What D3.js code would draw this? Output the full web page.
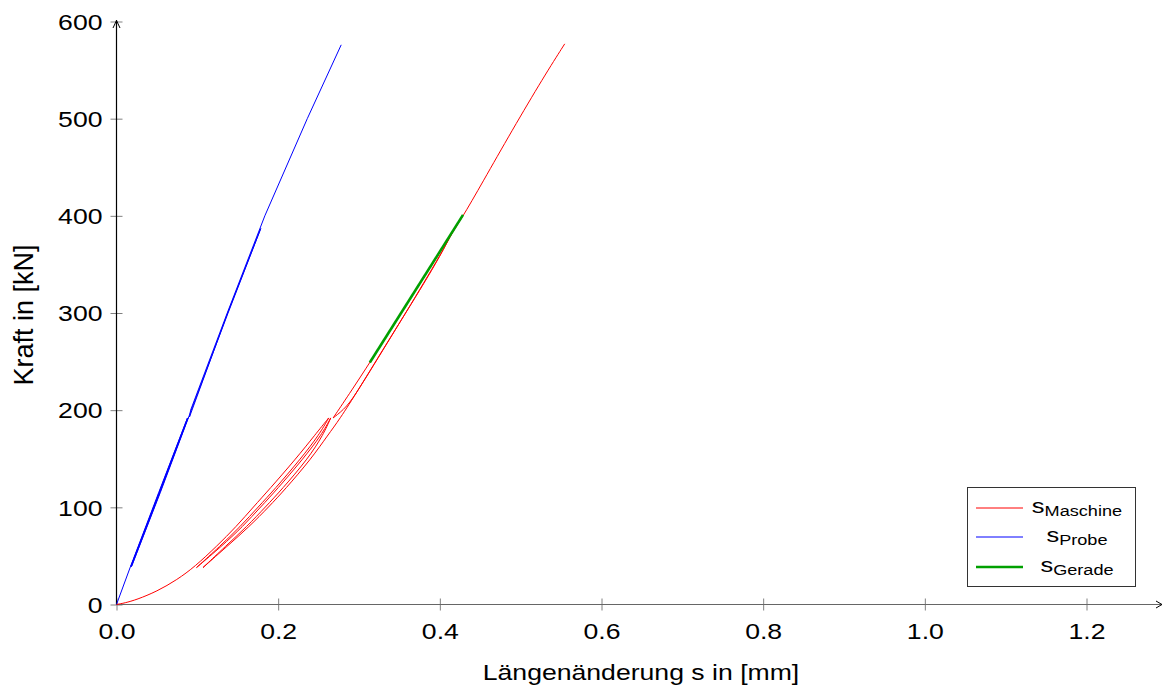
<!DOCTYPE html>
<html>
<head>
<meta charset="utf-8">
<script src="https://cdn.jsdelivr.net/npm/d3@7"></script>
<style>
  html, body { margin: 0; padding: 0; background: #fff; }
  svg { display: block; font-family: "Liberation Sans", Arial, sans-serif; }
</style>
</head>
<body>
<svg id="chart" width="1164" height="686"></svg>
<script>
// ---- Data: force (kN) vs. elongation (mm), split into load / unload cycles ----
// Machine displacement (s_Maschine), points as [mm, kN]
const machineLoad1   = [[0,0],[0.01,1.5],[0.025,5],[0.05,13.5],[0.075,25.5],[0.097,39],[0.124,60],[0.148,80],[0.170,101],[0.1885,118],[0.222,150],[0.246,175],[0.2625,192]];
const machineUnload1 = [[0.2625,192],[0.251,175],[0.228,150],[0.195,118],[0.176,101],[0.153,80],[0.128,60],[0.099,38]];
const machineReload1 = [[0.099,38],[0.130,60],[0.156,80],[0.179,101],[0.198,118],[0.231,150],[0.254,175],[0.265,192]];
const machineUnload2 = [[0.265,192],[0.256,175],[0.237,150],[0.204,118],[0.185,101],[0.161,80],[0.135,60],[0.107,38]];
const machineReload2 = [[0.107,38],[0.137,60],[0.164,80],[0.189,101],[0.208,118],[0.241,150],[0.262,175],[0.2755,190],[0.2993,221],[0.33,263],[0.36,303],[0.38,330],[0.40,358],[0.418,387]];
const machineUnload3 = [[0.418,387],[0.405,366],[0.385,338],[0.365,310],[0.34,276],[0.318,246],[0.30,222],[0.285,203],[0.268,192]];
const machineReload3 = [[0.268,192],[0.2914,221],[0.3134,249],[0.34,284],[0.37,323],[0.395,356],[0.4275,397.6],[0.4522,433.6],[0.4894,488],[0.5285,543],[0.5545,577]];

// Specimen displacement (s_Probe), points as [mm, kN]
const probeLoad1   = [[0,0],[0.0173,39],[0.0521,115],[0.0878,192]];
const probeUnload1 = [[0.0878,192],[0.0526,115],[0.0177,39]];
const probeReload1 = [[0.0177,39],[0.0531,115],[0.0885,192]];
const probeUnload2 = [[0.0885,192],[0.0536,115],[0.0185,39]];
const probeReload2 = [[0.0185,39],[0.0541,115],[0.0925,200],[0.1380,300],[0.1785,387]];
const probeUnload3 = [[0.1785,387],[0.1375,300],[0.0903,193]];
const probeReload3 = [[0.0903,193],[0.0917,200],[0.1370,300],[0.1835,400],[0.2360,500],[0.2780,576]];

// Fitted straight line (s_Gerade)
const fitLine = [[0.3134,249],[0.4287,401]];

// Axis ticks
const xTicks = [0, 0.2, 0.4, 0.6, 0.8, 1.0, 1.2];
const yTicks = [0, 100, 200, 300, 400, 500, 600];

const machineSeries = [machineLoad1, machineUnload1, machineReload1, machineUnload2, machineReload2, machineUnload3, machineReload3];
const probeSeries = [probeLoad1, probeUnload1, probeReload1, probeUnload2, probeReload2, probeUnload3, probeReload3];

// ---- Layout ----
const svg = d3.select("#chart");
const x = d3.scaleLinear().domain([0, 1.2]).range([116.5, 1086.5]);
const y = d3.scaleLinear().domain([0, 600]).range([604.5, 21.5]);
const SX = 1.21;           // horizontal text stretch
const tickGrey = "#808080";

// x axis
const xAxis = svg.append("g")
  .attr("transform", `translate(0,${y(0)})`)
  .call(d3.axisBottom(x).tickValues(xTicks).tickFormat(d3.format(".1f")).tickSize(6));
xAxis.select(".domain").remove();
xAxis.selectAll(".tick line").attr("y1", -6).attr("y2", 6).attr("stroke", tickGrey);
xAxis.selectAll(".tick text")
  .attr("y", 35).attr("dy", null)
  .attr("transform", `scale(${SX},1)`)
  .attr("font-size", 22).attr("font-family", "Liberation Sans, Arial, sans-serif").attr("fill", "#000");

// y axis
const yAxis = svg.append("g")
  .attr("transform", `translate(${x(0)},0)`)
  .call(d3.axisLeft(y).tickValues(yTicks).tickFormat(d3.format("d")).tickSize(6));
yAxis.select(".domain").remove();
yAxis.selectAll(".tick line").attr("x1", -6).attr("x2", 6).attr("stroke", tickGrey);
yAxis.selectAll(".tick text")
  .attr("x", -14 / SX).attr("dy", "0.35em")
  .attr("transform", `scale(${SX},1)`)
  .attr("font-size", 22).attr("font-family", "Liberation Sans, Arial, sans-serif").attr("fill", "#000");

// axis lines with arrow heads
svg.append("line").attr("x1", x(0)).attr("x2", 1162).attr("y1", y(0)).attr("y2", y(0))
  .attr("stroke", "#666").attr("stroke-width", 1.2);
svg.append("path").attr("d", `M1156,${y(0) - 3.5}L1162,${y(0)}L1156,${y(0) + 3.5}`)
  .attr("fill", "none").attr("stroke", "#000");
svg.append("line").attr("x1", x(0)).attr("x2", x(0)).attr("y1", y(0)).attr("y2", 20)
  .attr("stroke", "#000").attr("stroke-width", 1.2);
svg.append("path").attr("d", `M${x(0) - 3.5},28L${x(0)},20.5L${x(0) + 3.5},28`)
  .attr("fill", "none").attr("stroke", "#000");

// axis titles
svg.append("g").attr("transform", `translate(641,680) scale(${SX},1)`)
  .append("text").attr("text-anchor", "middle").attr("font-size", 22).attr("fill", "#000")
  .text("Längenänderung s in [mm]");
svg.append("g").attr("transform", `translate(33,315) rotate(-90)`)
  .append("text").attr("text-anchor", "middle").attr("font-size", 27).attr("fill", "#000")
  .text("Kraft in [kN]");

// ---- Curves ----
// machine branches: smoothed B-spline through the measured points (ends are kept)
const smooth = d3.line().x(d => x(d[0])).y(d => y(d[1])).curve(d3.curveBasis);
// specimen branches and fit line: straight segments
const straight = d3.line().x(d => x(d[0])).y(d => y(d[1]));
const plot = svg.append("g");

plot.selectAll("path.probe").data(probeSeries).join("path")
  .attr("class", "probe").attr("d", straight)
  .attr("fill", "none").attr("stroke", "#0000ff").attr("stroke-width", 1);

plot.selectAll("path.machine").data(machineSeries).join("path")
  .attr("class", "machine").attr("d", smooth)
  .attr("fill", "none").attr("stroke", "#ff0000").attr("stroke-width", 1);

plot.append("path").datum(fitLine).attr("d", straight)
  .attr("fill", "none").attr("stroke", "#00a000").attr("stroke-width", 2.6);

// ---- Legend ----
const legendItems = [
  { sub: "Maschine", color: "#ff0000", width: 1 },
  { sub: "Probe", color: "#0000ff", width: 1 },
  { sub: "Gerade", color: "#00a000", width: 2.6 }
];
const legend = svg.append("g");
legend.append("rect").attr("x", 967.5).attr("y", 487.5).attr("width", 168).attr("height", 99)
  .attr("fill", "#fff").attr("stroke", "#333").attr("stroke-width", 1);
const rowY = [508, 537, 567];
legendItems.forEach((it, i) => {
  legend.append("line").attr("x1", 976).attr("x2", 1023).attr("y1", rowY[i]).attr("y2", rowY[i])
    .attr("stroke", it.color).attr("stroke-width", it.width);
  const t = legend.append("g").attr("transform", `translate(1077,${rowY[i] + 5}) scale(${SX},1)`)
    .append("text").attr("text-anchor", "middle").attr("fill", "#000");
  t.append("tspan").attr("font-size", 21).text("s");
  t.append("tspan").attr("font-size", 15).attr("dy", 3).text(it.sub);
});
</script>
</body>
</html>
